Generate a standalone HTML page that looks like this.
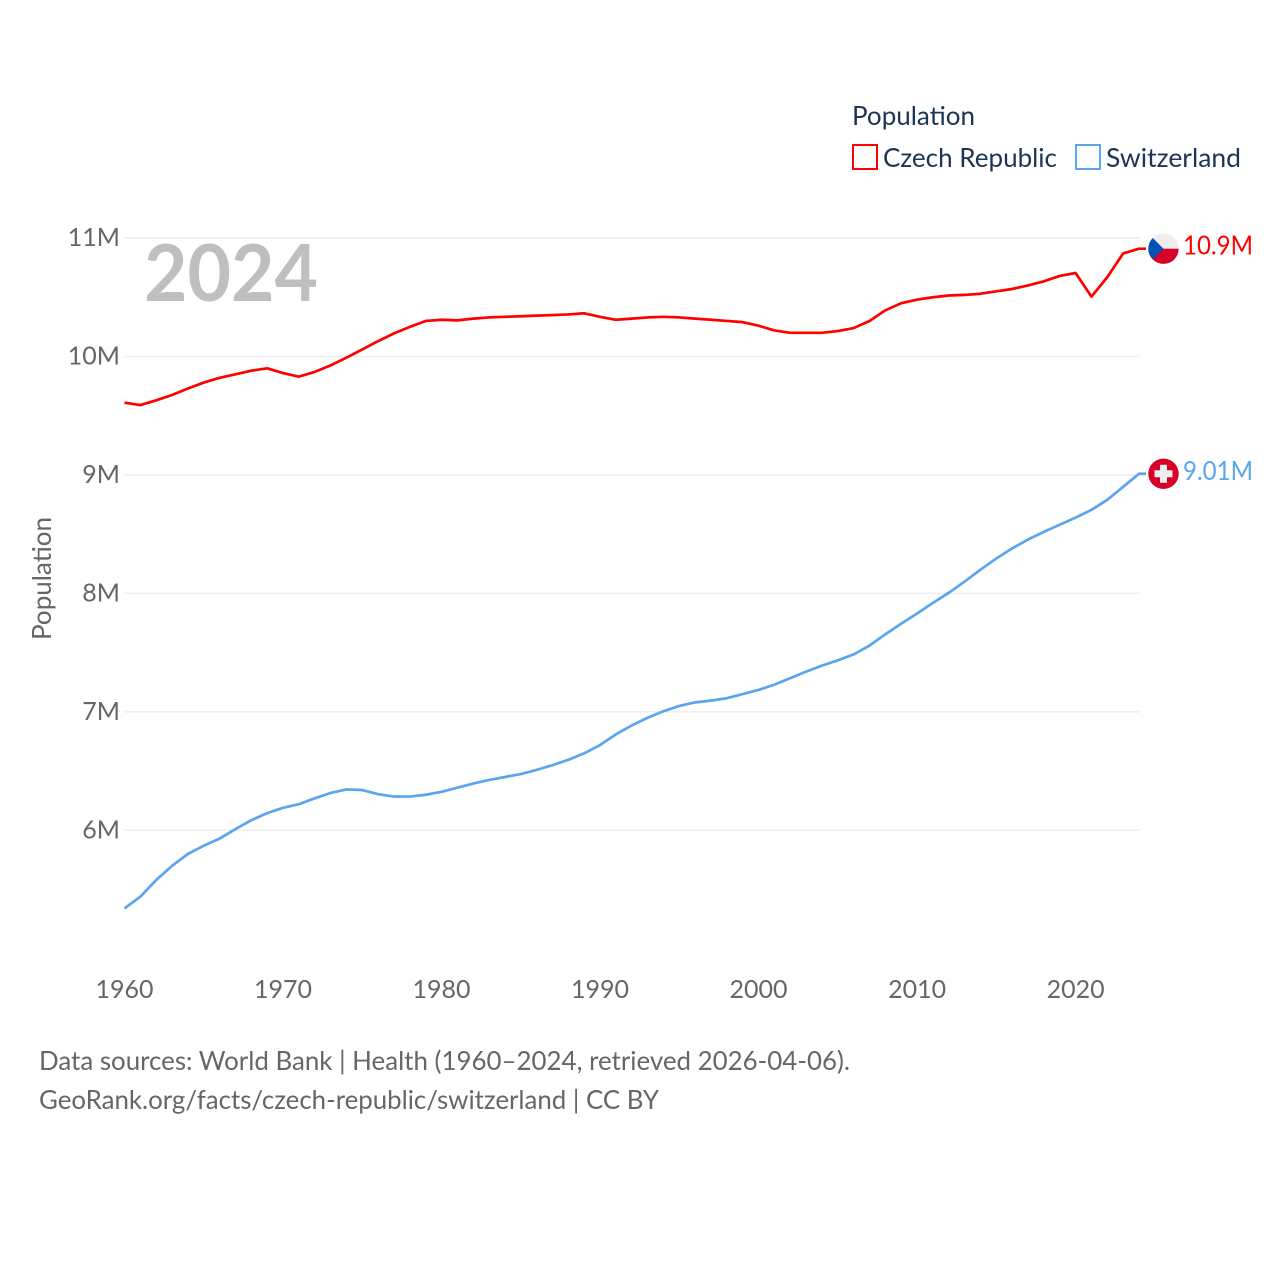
<!DOCTYPE html>
<html lang="en">
<head>
<meta charset="utf-8">
<title>Population: Czech Republic and Switzerland</title>
<style>
html,body{margin:0;padding:0;background:#fff;}
svg{display:block;}
text{font-family:Lato,Carlito,"Liberation Sans",sans-serif;}
</style>
</head>
<body>
<svg id="chart" xmlns="http://www.w3.org/2000/svg" width="1280" height="1280" viewBox="0 0 1280 1280">
  <rect width="1280" height="1280" fill="#fff"/>
  <g id="grid"></g>
  <g id="yticks"></g>
  <g id="xticks"></g>
  <text x="144" y="301" font-size="79" font-weight="700" fill="#bfbfbf" textLength="174" lengthAdjust="spacingAndGlyphs">2024</text>
  <text transform="translate(51,640) rotate(-90)" font-size="26" fill="#666" textLength="123" lengthAdjust="spacingAndGlyphs">Population</text>
  <g>
    <text x="852" y="125" font-size="26" fill="#1b3555" textLength="123" lengthAdjust="spacingAndGlyphs">Population</text>
    <rect x="853" y="145" width="24" height="24" fill="#fff" stroke="#ff0000" stroke-width="2"/>
    <text x="883" y="167" font-size="26" fill="#1b3555" textLength="174" lengthAdjust="spacingAndGlyphs">Czech Republic</text>
    <rect x="1076" y="145" width="24" height="24" fill="#fff" stroke="#5ba4ee" stroke-width="2"/>
    <text x="1106" y="167" font-size="26" fill="#1b3555" textLength="135" lengthAdjust="spacingAndGlyphs">Switzerland</text>
  </g>
  <g id="series"></g>
  <defs>
    <clipPath id="flag-clip"><circle cx="0" cy="0" r="15.2"/></clipPath>
  </defs>
  <g id="flag-cz">
    <g clip-path="url(#flag-clip)">
      <rect x="-16" y="-16" width="32" height="16" fill="#eeeeee"/>
      <rect x="-16" y="0" width="32" height="16" fill="#d80027"/>
      <polygon points="-16,-16 0,0 -16,16" fill="#0052b4"/>
    </g>
  </g>
  <g id="flag-ch">
    <circle cx="0" cy="0" r="15.2" fill="#d80027"/>
    <rect x="-3.5" y="-9" width="7" height="18" fill="#eeeeee"/>
    <rect x="-9" y="-3.5" width="18" height="7" fill="#eeeeee"/>
  </g>
  <text id="end-cz" x="1183" font-size="26" fill="#ff0000" textLength="70" lengthAdjust="spacingAndGlyphs"></text>
  <text id="end-ch" x="1183" font-size="26" fill="#5ba4ee" textLength="70" lengthAdjust="spacingAndGlyphs"></text>
  <g>
    <text x="39" y="1070" font-size="26" fill="#666" textLength="811" lengthAdjust="spacingAndGlyphs">Data sources: World Bank | Health (1960–2024, retrieved 2026-04-06).</text>
    <text x="39" y="1109" font-size="26" fill="#666" textLength="620" lengthAdjust="spacingAndGlyphs">GeoRank.org/facts/czech-republic/switzerland | CC BY</text>
  </g>
</svg>
<script>
const startYear = 1960;
const czechRepublic = [9.61,9.59,9.63,9.675,9.73,9.78,9.82,9.85,9.88,9.9,9.86,9.83,9.87,9.925,9.99,10.06,10.13,10.195,10.25,10.3,10.31,10.305,10.32,10.33,10.335,10.34,10.345,10.35,10.355,10.365,10.335,10.31,10.32,10.33,10.335,10.33,10.32,10.31,10.3,10.29,10.26,10.22,10.2,10.2,10.2,10.215,10.24,10.3,10.39,10.45,10.48,10.5,10.515,10.52,10.53,10.55,10.57,10.6,10.635,10.68,10.705,10.505,10.67,10.87,10.91];
const switzerland = [5.34,5.44,5.58,5.70,5.80,5.87,5.93,6.01,6.085,6.145,6.19,6.22,6.27,6.315,6.345,6.34,6.305,6.285,6.285,6.30,6.325,6.36,6.395,6.425,6.45,6.475,6.51,6.55,6.595,6.65,6.72,6.81,6.885,6.95,7.005,7.05,7.08,7.095,7.115,7.15,7.185,7.23,7.285,7.34,7.39,7.435,7.485,7.56,7.655,7.745,7.83,7.92,8.005,8.1,8.2,8.295,8.38,8.455,8.52,8.58,8.64,8.705,8.79,8.9,9.01];
const yTickValues = [6,7,8,9,10,11];
const yTickLabels = ["6M","7M","8M","9M","10M","11M"];
const xTickYears = [1960,1970,1980,1990,2000,2010,2020];
const endLabelCzech = "10.9M";
const endLabelSwiss = "9.01M";

const NS = "http://www.w3.org/2000/svg";
const plotLeft = 124.5, plotRight = 1139;
const xScale = function (year) { return plotLeft + (year - 1960) * (plotRight - plotLeft) / 64; };
const yScale = function (v) { return 830.3 - (v - 6) * 118.45; };
const lastYear = function (arr) { return startYear + arr.length - 1; };

const gridG = document.getElementById("grid");
const yG = document.getElementById("yticks");
const xG = document.getElementById("xticks");
const seriesG = document.getElementById("series");

yTickValues.forEach(function (v, i) {
  const y = yScale(v);
  const line = document.createElementNS(NS, "line");
  
  
  line.setAttribute("x1", plotLeft);
  line.setAttribute("x2", plotRight);
  line.setAttribute("y1", y);
  line.setAttribute("y2", y);
  line.setAttribute("stroke", "#eeeeee");
  line.setAttribute("stroke-width", "1.5");
  gridG.appendChild(line);
  const t = document.createElementNS(NS, "text");
  
  
  t.setAttribute("x", 120);
  t.setAttribute("y", y + 8);
  t.setAttribute("text-anchor", "end");
  t.setAttribute("font-size", "25");
  t.setAttribute("fill", "#666");
  t.textContent = yTickLabels[i];
  yG.appendChild(t);
});

xTickYears.forEach(function (yr) {
  const t = document.createElementNS(NS, "text");
  
  
  t.setAttribute("x", xScale(yr));
  t.setAttribute("y", 998);
  t.setAttribute("text-anchor", "middle");
  t.setAttribute("font-size", "25");
  t.setAttribute("fill", "#666");
  t.textContent = String(yr);
  xG.appendChild(t);
});

function pathFor(values) {
  const pts = values.map(function (v, i) {
    return xScale(startYear + i).toFixed(2) + "," + yScale(v).toFixed(2);
  });
  const last = values[values.length - 1];
  pts.push((xScale(lastYear(values)) + 7).toFixed(2) + "," + yScale(last).toFixed(2));
  return "M" + pts.join("L");
}

const czLine = document.createElementNS(NS, "path");


czLine.setAttribute("d", pathFor(czechRepublic));
czLine.setAttribute("fill", "none");
czLine.setAttribute("stroke", "#ff0000");
czLine.setAttribute("stroke-width", "2.7");
czLine.setAttribute("stroke-linejoin", "round");
seriesG.appendChild(czLine);

const chLine = document.createElementNS(NS, "path");


chLine.setAttribute("d", pathFor(switzerland));
chLine.setAttribute("fill", "none");
chLine.setAttribute("stroke", "#5ba4ee");
chLine.setAttribute("stroke-width", "2.7");
chLine.setAttribute("stroke-linejoin", "round");
seriesG.appendChild(chLine);

const endX = xScale(lastYear(switzerland)) + 24.5;
const czEndY = yScale(czechRepublic[czechRepublic.length - 1]);
const chEndY = yScale(switzerland[switzerland.length - 1]);
document.getElementById("flag-cz").setAttribute("transform", "translate(" + endX + "," + czEndY + ")");
document.getElementById("flag-ch").setAttribute("transform", "translate(" + endX + "," + chEndY + ")");
const czEnd = document.getElementById("end-cz");
czEnd.setAttribute("y", czEndY + 6);
czEnd.textContent = endLabelCzech;
const chEnd = document.getElementById("end-ch");
chEnd.setAttribute("y", chEndY + 6);
chEnd.textContent = endLabelSwiss;
</script>
</body>
</html>
